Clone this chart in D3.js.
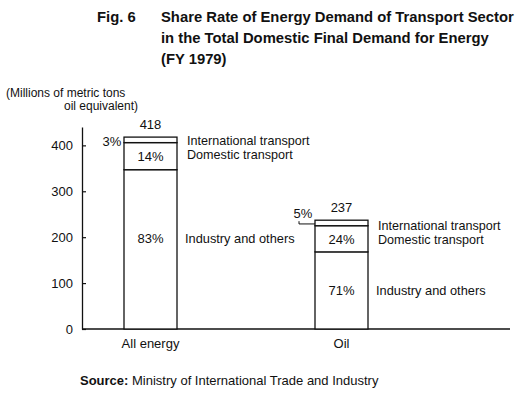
<!DOCTYPE html>
<html>
<head>
<meta charset="utf-8">
<script src="https://cdnjs.cloudflare.com/ajax/libs/d3/7.8.5/d3.min.js"></script>
<style>
  body { margin: 0; background: #fff; }
  svg text { font-family: "Liberation Sans", Arial, sans-serif; fill: #111; }
</style>
</head>
<body>
<div id="chart"></div>
<script>
// values (millions of metric tons oil equivalent)
var categories = ["All energy", "Oil"];
var totals = [418, 237];
var industry = [347, 168];
var domestic = [59, 57];
var international = [12, 12];
var pctIndustry = ["83%", "71%"];
var pctDomestic = ["14%", "24%"];
var pctInternational = ["3%", "5%"];
var yTicks = [0, 100, 200, 300, 400];

var width = 520, height = 394;

var svg = d3.select("#chart")
    .append("svg")
    .attr("width", width)
    .attr("height", height);

// title
var title = svg.append("g").attr("font-weight", "bold").attr("font-size", 14.8);
title.append("text").attr("x", 97).attr("y", 22).text("Fig. 6");
title.selectAll(".tl")
    .data(["Share Rate of Energy Demand of Transport Sector",
           "in the Total Domestic Final Demand for Energy",
           "(FY 1979)"])
    .enter().append("text")
    .attr("x", 161)
    .attr("y", function (d, i) { return 22 + i * 21; })
    .text(function (d) { return d; });

// unit label
svg.append("text").attr("x", 6).attr("y", 97).attr("font-size", 12)
    .text("(Millions of metric tons");
svg.append("text").attr("x", 138).attr("y", 110).attr("font-size", 12)
    .attr("text-anchor", "end").text("oil equivalent)");

var y = d3.scaleLinear().domain([0, 440]).range([329, 127]);
var x = d3.scalePoint().domain(categories).range([150.5, 341.5]);
var barW = 53;

// y axis, ticks pointing inward
var yAxis = d3.axisLeft(y)
    .tickValues(yTicks)
    .tickSizeInner(-4)
    .tickSizeOuter(0)
    .tickPadding(9);

var axisG = svg.append("g")
    .attr("transform", "translate(82,0)")
    .call(yAxis);
axisG.select(".domain").attr("stroke", "#111").attr("stroke-width", 1.3);
axisG.selectAll(".tick line").attr("stroke", "#111").attr("stroke-width", 1.2);
axisG.selectAll(".tick text")
    .attr("font-size", 13)
    .attr("font-family", "Liberation Sans, Arial, sans-serif")
    .attr("fill", "#111");

// base line
svg.append("line")
    .attr("x1", 82).attr("x2", 510)
    .attr("y1", y(0)).attr("y2", y(0))
    .attr("stroke", "#111").attr("stroke-width", 1.3);

// stacked segments
var rows = categories.map(function (c, i) {
    return {
        cat: c,
        segs: [
            {lo: 0, hi: industry[i], pct: pctIndustry[i], name: "Industry and others"},
            {lo: industry[i], hi: industry[i] + domestic[i], pct: pctDomestic[i], name: "Domestic transport"},
            {lo: industry[i] + domestic[i], hi: totals[i], pct: pctInternational[i], name: "International transport"}
        ],
        total: totals[i]
    };
});

var bars = svg.selectAll(".bar")
    .data(rows)
    .enter().append("g")
    .attr("class", "bar");

bars.selectAll("rect")
    .data(function (d) { return d.segs.map(function (s) { s.cat = d.cat; return s; }); })
    .enter().append("rect")
    .attr("x", function (s) { return x(s.cat) - barW / 2; })
    .attr("y", function (s) { return y(s.hi); })
    .attr("width", barW)
    .attr("height", function (s) { return y(s.lo) - y(s.hi); })
    .attr("fill", "#fff")
    .attr("stroke", "#111")
    .attr("stroke-width", 1.3);

bars.each(function (d) {
    var g = d3.select(this);
    var cx = x(d.cat), right = cx + barW / 2 + 10, left = cx - barW / 2;
    var ind = d.segs[0], dom = d.segs[1], intl = d.segs[2];
    var first = d.cat === "All energy";
    var domY = (y(dom.lo) + y(dom.hi)) / 2;
    var indY = (y(ind.lo) + y(ind.hi)) / 2 - (first ? 11 : 0);
    var domLab = domY - (first ? 2 : 0);

    // total on top
    g.append("text").attr("x", cx).attr("y", y(d.total) - 8)
        .attr("text-anchor", "middle").attr("font-size", 13).text(d.total);

    // percentages inside
    g.append("text").attr("x", cx).attr("y", domY + 5)
        .attr("text-anchor", "middle").attr("font-size", 13).text(dom.pct);
    g.append("text").attr("x", cx).attr("y", indY + 5)
        .attr("text-anchor", "middle").attr("font-size", 13).text(ind.pct);

    // labels on the right
    g.append("text").attr("x", right).attr("y", domLab - 13 + 4)
        .attr("font-size", 12.6).text(intl.name);
    g.append("text").attr("x", right).attr("y", domLab + 5)
        .attr("font-size", 12.6).text(dom.name);
    g.append("text").attr("x", right - 2).attr("y", indY + 5)
        .attr("font-size", 12.8).text(ind.name);

    // small international share outside on the left
    if (first) {
        g.append("text").attr("x", left - 12).attr("y", y(intl.hi) + 9)
            .attr("text-anchor", "middle").attr("font-size", 13).text(intl.pct);
    } else {
        var my = (y(intl.lo) + y(intl.hi)) / 2;
        g.append("text").attr("x", left - 12).attr("y", y(intl.hi) - 2)
            .attr("text-anchor", "middle").attr("font-size", 13).text(intl.pct);
        g.append("path")
            .attr("d", "M" + (left - 16) + "," + (y(intl.hi) + 1) + "V" + (my + 1) + "H" + left)
            .attr("fill", "none").attr("stroke", "#111").attr("stroke-width", 1);
    }

    // category
    g.append("text").attr("x", cx).attr("y", y(0) + 19)
        .attr("text-anchor", "middle").attr("font-size", 13).text(d.cat);
});

// source
var src = svg.append("text").attr("x", 80).attr("y", 385).attr("font-size", 13);
src.append("tspan").attr("font-weight", "bold").text("Source:");
src.append("tspan").text(" Ministry of International Trade and Industry");
</script>
</body>
</html>
